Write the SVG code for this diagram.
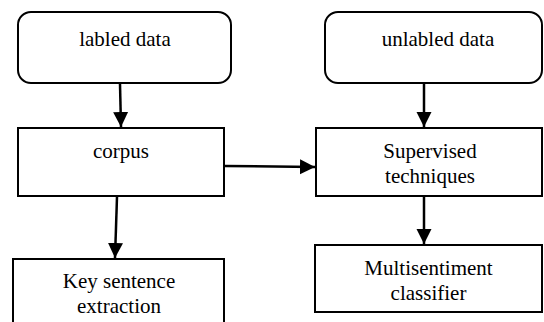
<svg xmlns="http://www.w3.org/2000/svg" width="544" height="322" viewBox="0 0 544 322">
<defs>
<marker id="ah" markerUnits="userSpaceOnUse" markerWidth="16" markerHeight="16" viewBox="0 0 16 16" refX="15" refY="8" orient="auto">
<path d="M0,0.5 L15,8 L0,15.5 Z" fill="#000"/>
</marker>
</defs>
<rect width="544" height="322" fill="#fff"/>
<g fill="#fff" stroke="#000" stroke-width="2">
<g id="labled">
<rect x="18" y="12" width="213" height="71" rx="13"/>
<text x="125" y="46" font-family="Liberation Serif" font-size="21" fill="#000" stroke="none" text-anchor="middle">labled data</text>
</g>
<g id="unlabled">
<rect x="325" y="12" width="217" height="71" rx="13"/>
<text x="438" y="46" font-family="Liberation Serif" font-size="21" fill="#000" stroke="none" text-anchor="middle">unlabled data</text>
</g>
<g id="corpus">
<rect x="18" y="128" width="206" height="68"/>
<text x="121" y="158" font-family="Liberation Serif" font-size="21" fill="#000" stroke="none" text-anchor="middle">corpus</text>
</g>
<g id="supervised">
<rect x="316" y="128" width="226" height="68"/>
<text x="430" y="158" font-family="Liberation Serif" font-size="21" fill="#000" stroke="none" text-anchor="middle">Supervised</text>
<text x="430" y="183" font-family="Liberation Serif" font-size="21" fill="#000" stroke="none" text-anchor="middle">techniques</text>
</g>
<g id="key">
<rect x="13" y="259" width="211" height="75"/>
<text x="119" y="288" font-family="Liberation Serif" font-size="21" fill="#000" stroke="none" text-anchor="middle">Key sentence</text>
<text x="119" y="313" font-family="Liberation Serif" font-size="21" fill="#000" stroke="none" text-anchor="middle">extraction</text>
</g>
<g id="multi">
<rect x="315" y="245" width="227" height="67"/>
<text x="428.5" y="275" font-family="Liberation Serif" font-size="21" fill="#000" stroke="none" text-anchor="middle">Multisentiment</text>
<text x="428.5" y="300" font-family="Liberation Serif" font-size="21" fill="#000" stroke="none" text-anchor="middle">classifier</text>
</g>
</g>
<g id="connectors" stroke="#000" stroke-width="2.5" fill="none">
<line x1="120" y1="84" x2="121" y2="127" marker-end="url(#ah)"/>
<line x1="424" y1="84" x2="424" y2="127" marker-end="url(#ah)"/>
<line x1="225" y1="166" x2="315" y2="167" marker-end="url(#ah)"/>
<line x1="117" y1="197" x2="115" y2="258" marker-end="url(#ah)"/>
<line x1="424" y1="197" x2="424" y2="244" marker-end="url(#ah)"/>
</g>
</svg>
